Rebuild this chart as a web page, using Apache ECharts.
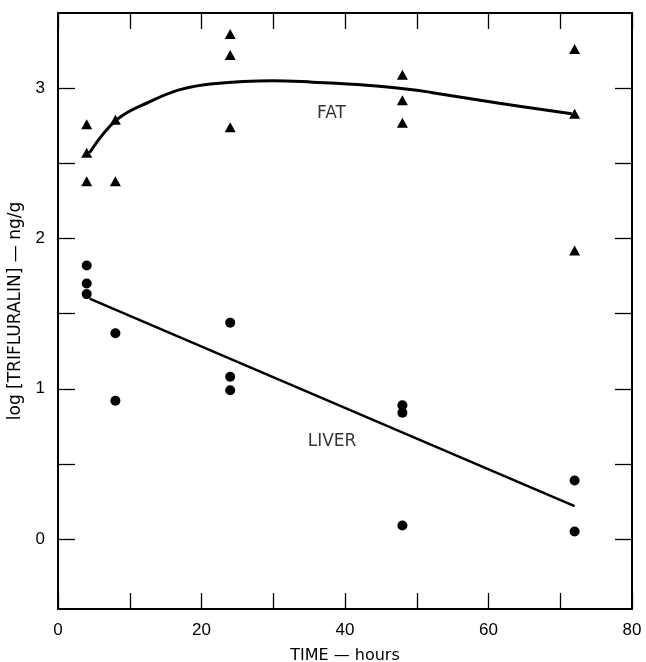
<!DOCTYPE html>
<html>
<head>
<meta charset="utf-8">
<script src="https://cdn.jsdelivr.net/npm/echarts@6/dist/echarts.min.js"></script>
<style>
  html, body { margin: 0; padding: 0; background: #fff; }
  #chart { width: 646px; height: 662px; }
</style>
</head>
<body>
<div id="chart"></div>
<script>
// Trifluralin residues (log ng/g) in fat and liver over time (hours)
const fatPoints = [
  [4, 2.76], [4, 2.57], [4, 2.38],
  [8, 2.79], [8, 2.38],
  [24, 3.36], [24, 3.22], [24, 2.74],
  [48, 3.09], [48, 2.92], [48, 2.77],
  [72, 3.26], [72, 2.83], [72, 1.92]
];
const liverPoints = [
  [4, 1.82], [4, 1.70], [4, 1.63],
  [8, 1.37], [8, 0.92],
  [24, 1.44], [24, 1.08], [24, 0.99],
  [48, 0.89], [48, 0.84], [48, 0.09],
  [72, 0.39], [72, 0.05]
];
// Fitted trend for fat (hand-drawn curve)
const fatCurve = [
  [4.4, 2.57], [8.2, 2.79], [12.8, 2.91], [17, 2.99], [21.6, 3.03],
  [29.9, 3.05], [35.5, 3.04], [43, 3.02], [49.4, 2.99], [52.2, 2.97],
  [61.5, 2.90], [71.6, 2.83]
];
// Regression line for liver
const liverLine = [[4.4, 1.60], [72, 0.22]];
const seriesLabels = [
  { name: 'FAT', value: [38.1, 2.83] },
  { name: 'LIVER', value: [38.2, 0.65] }
];
const yTicks = [0, 0.5, 1, 1.5, 2, 2.5, 3];
const yTickLabels = [0, 1, 2, 3];
const xTickLabels = [0, 20, 40, 60, 80];

const ink = '#000';
const font = 'Liberation Sans, Arial, Helvetica, sans-serif';
const titleFont = 'DejaVu Sans, Liberation Sans, sans-serif';

const chart = echarts.init(document.getElementById('chart'));

const xBase = {
  type: 'value', min: 0, max: 80, interval: 10,
  axisLine: { onZero: false, lineStyle: { color: ink, width: 2 } },
  axisTick: { inside: true, length: 16, lineStyle: { color: ink, width: 1.3 } },
  splitLine: { show: false }
};
const yBase = {
  type: 'value', min: -0.465, max: 3.5,
  axisLine: { onZero: false, lineStyle: { color: ink, width: 2 } },
  axisTick: { inside: true, length: 17, customValues: yTicks, lineStyle: { color: ink, width: 1.3 } },
  splitLine: { show: false }
};

chart.setOption({
  backgroundColor: '#fff',
  animation: false,
  grid: { left: 58, right: 14, top: 13, bottom: 53, outerBoundsMode: 'none', containLabel: false },
  xAxis: [
    Object.assign({}, xBase, {
      position: 'bottom',
      name: 'TIME — hours',
      nameLocation: 'middle',
      nameGap: 39,
      nameTextStyle: { color: ink, fontSize: 16, fontFamily: titleFont },
      axisLabel: {
        margin: 13, color: ink, fontSize: 17, fontFamily: font,
        formatter: v => (xTickLabels.indexOf(v) >= 0 ? String(v) : '')
      }
    }),
    Object.assign({}, xBase, { position: 'top', axisLabel: { show: false } })
  ],
  yAxis: [
    Object.assign({}, yBase, {
      position: 'left',
      name: 'log [TRIFLURALIN] — ng/g',
      nameLocation: 'middle',
      nameGap: 34,
      nameTextStyle: { color: ink, fontSize: 17, fontFamily: titleFont },
      axisLabel: {
        margin: 13, color: ink, fontSize: 17, fontFamily: font,
        customValues: yTickLabels
      }
    }),
    Object.assign({}, yBase, { position: 'right', axisLabel: { show: false } })
  ],
  series: [
    {
      type: 'line', data: fatCurve, smooth: 0.4, symbol: 'none',
      lineStyle: { color: ink, width: 3 }, z: 2
    },
    {
      type: 'line', data: liverLine, symbol: 'none',
      lineStyle: { color: ink, width: 2.5 }, z: 2
    },
    {
      type: 'scatter', data: fatPoints, symbol: 'triangle', symbolSize: [11, 10],
      itemStyle: { color: ink, opacity: 1 }, z: 3
    },
    {
      type: 'scatter', data: liverPoints, symbol: 'circle', symbolSize: 10,
      itemStyle: { color: ink, opacity: 1 }, z: 3
    },
    {
      type: 'scatter', data: seriesLabels, symbolSize: 0, silent: true,
      label: {
        show: true, position: 'inside', formatter: p => p.name,
        color: ink, fontSize: 17, fontFamily: titleFont
      }
    }
  ]
});
</script>
</body>
</html>
